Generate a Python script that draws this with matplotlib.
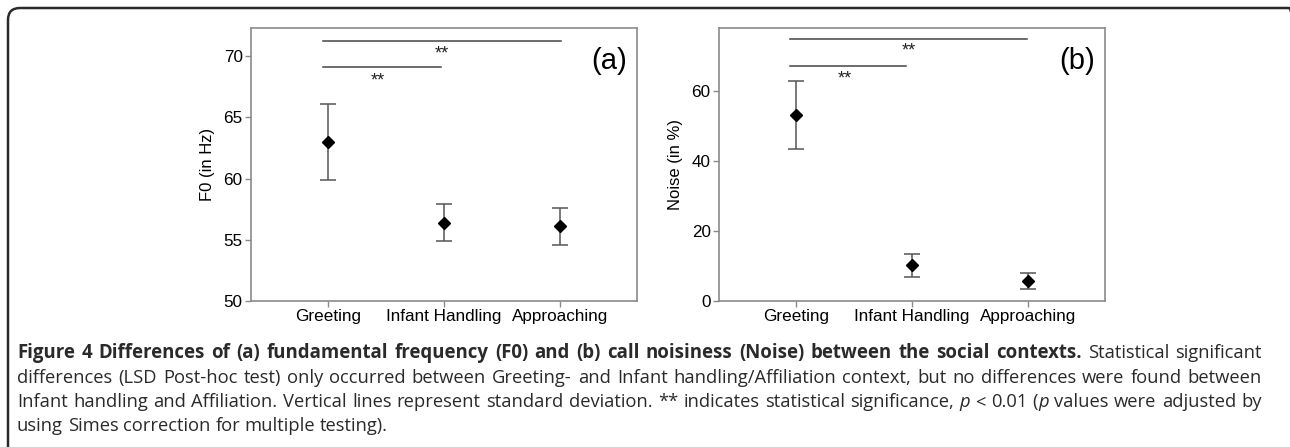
import matplotlib
matplotlib.use("Agg")
import matplotlib.pyplot as plt
from matplotlib.patches import FancyBboxPatch
from matplotlib.transforms import IdentityTransform

categories = ["Greeting", "Infant Handling", "Approaching"]

f0_mean = [63.0, 56.4, 56.1]
f0_sd = [3.1, 1.5, 1.5]
noise_mean = [53.2, 10.2, 5.7]
noise_sd = [9.7, 3.3, 2.4]

# significance brackets: (x_start, x_end, y_line, x_star, y_star)
f0_sig = [(-0.04, 2.01, 71.2, 0.98, 70.2), (-0.04, 0.97, 69.1, 0.43, 68.0)]
noise_sig = [(-0.05, 1.99, 74.8, 0.97, 71.3), (-0.05, 0.95, 67.1, 0.42, 63.4)]

caption_lines = [
    [("Figure 4 Differences of (a) fundamental frequency (F0) and (b) call noisiness (Noise) between the social contexts.", "bold"),
     (" Statistical significant", "normal")],
    [("differences (LSD Post-hoc test) only occurred between Greeting- and Infant handling/Affiliation context, but no differences were found between", "normal")],
    [("Infant handling and Affiliation. Vertical lines represent standard deviation. ** indicates statistical significance, ", "normal"),
     ("p", "italic"), (" < 0.01 (", "normal"), ("p", "italic"), (" values were adjusted by", "normal")],
    [("using Simes correction for multiple testing).", "normal")],
]

W, H = 1290, 447
fig = plt.figure(figsize=(W / 100, H / 100), dpi=100)
plt.rcParams["font.family"] = ["Liberation Sans", "DejaVu Sans"]

frame_col = "#8a8a8a"


def panel(rect, means, sds, ylim, yticks, ylabel, tag, sig):
    ax = fig.add_axes(rect)
    x = list(range(len(categories)))
    ax.errorbar(x, means, yerr=sds, fmt="none", ecolor="#555555", elinewidth=1.1,
                capsize=5.5, capthick=1.1)
    ax.plot(x, means, "D", color="black", markersize=6.5)
    ax.set_xlim(-0.665, 2.665)
    ax.set_ylim(*ylim)
    ax.set_yticks(yticks)
    ax.set_xticks(x)
    ax.set_xticklabels(categories)
    ax.set_ylabel(ylabel, fontsize=12, labelpad=6)
    for s in ax.spines.values():
        s.set_color(frame_col)
        s.set_linewidth(1.2)
    ax.tick_params(direction="out", length=4, width=1, color=frame_col, labelsize=12.3, pad=2)
    for x0, x1, yl, xs, ys in sig:
        ax.plot([x0, x1], [yl, yl], color="#444444", lw=1.1)
        ax.text(xs, ys, "**", ha="center", va="center", fontsize=13, color="#222222")
    ax.text(0.975, 0.88, tag, transform=ax.transAxes, ha="right", va="center", fontsize=21)
    return ax


panel([251 / W, 1 - 301 / H, 386 / W, 273 / H], f0_mean, f0_sd, (50, 72.3),
      [50, 55, 60, 65, 70], "F0 (in Hz)", "(a)", f0_sig)
panel([719 / W, 1 - 301 / H, 386 / W, 273 / H], noise_mean, noise_sd, (0, 78),
      [0, 20, 40, 60], "Noise (in %)", "(b)", noise_sig)

# outer rounded frame (pixel coords), running off the right and bottom edges
box = FancyBboxPatch((8, -40), 1293, 479, boxstyle="round,pad=0,rounding_size=12",
                     transform=IdentityTransform(), fill=False, edgecolor="#2b2b2b",
                     linewidth=1.8)
fig.patches.append(box)

# caption: place word by word, justify all but the last line
fig.canvas.draw()
renderer = fig.canvas.get_renderer()
cap_family = ["Open Sans", "DejaVu Sans"]
sizes = {"bold": 13.4, "normal": 13.2, "italic": 13.2}


def make(txt, style, xx, yy):
    return fig.text(xx / W, 1 - yy / H, txt, fontsize=sizes[style], va="baseline", ha="left",
                    family=cap_family, color="#2a2a2a",
                    fontweight="bold" if style == "bold" else "normal",
                    fontstyle="italic" if style == "italic" else "normal")


probe_a = make("xx", "normal", 0, 0)
probe_b = make("x x", "normal", 0, 0)
space_w = probe_b.get_window_extent(renderer).width - probe_a.get_window_extent(renderer).width
probe_a.remove()
probe_b.remove()

baselines = [358, 383, 407, 431]
x_left, x_right = 17, 1262
for li, (segs, yy) in enumerate(zip(caption_lines, baselines)):
    tokens = []
    gap = False
    for txt, style in segs:
        for i, part in enumerate(txt.split(" ")):
            if i > 0:
                gap = True
            if part == "":
                continue
            tokens.append([part, style, gap])
            gap = False
    objs = [make(t, s, 0, yy) for t, s, _ in tokens]
    widths = [o.get_window_extent(renderer).width for o in objs]
    n_gaps = sum(1 for t in tokens if t[2])
    gw = space_w
    if li < len(caption_lines) - 1 and n_gaps:
        gw = max((x_right - x_left - sum(widths)) / n_gaps, space_w * 0.8)
    xx = x_left
    for (t, s, g), o, w in zip(tokens, objs, widths):
        if g:
            xx += gw
        o.set_x(xx / W)
        xx += w

fig.savefig("out.png", dpi=100)
